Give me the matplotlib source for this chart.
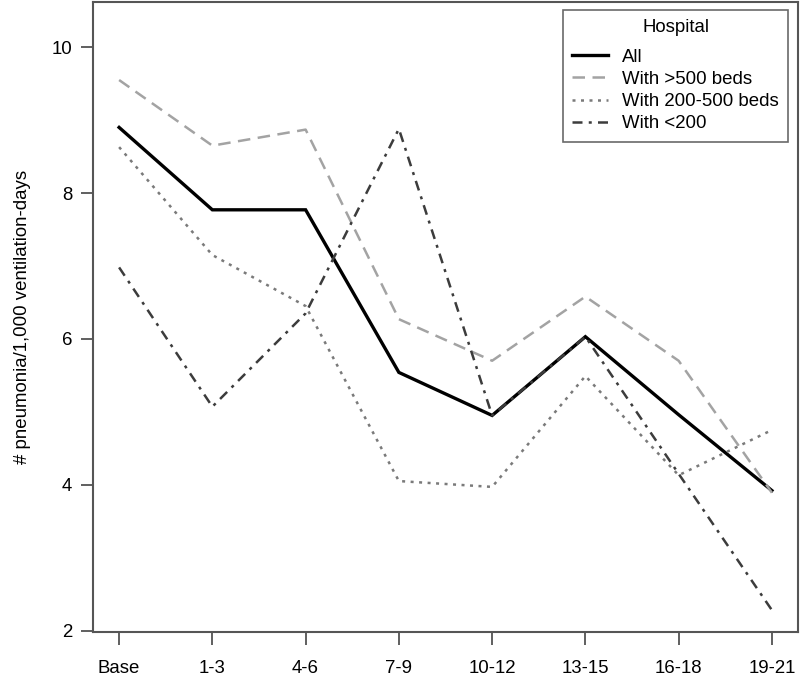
import matplotlib
matplotlib.use("Agg")
import matplotlib.pyplot as plt
import numpy as np

periods = ["Base", "1-3", "4-6", "7-9", "10-12", "13-15", "16-18", "19-21"]

all_hosp = [8.90, 7.77, 7.77, 5.54, 4.95, 6.03, 4.96, 3.92]
beds_500plus = [9.55, 8.65, 8.87, 6.27, 5.70, 6.58, 5.70, 3.89]
beds_200_500 = [8.63, 7.15, 6.45, 4.05, 3.97, 5.49, 4.13, 4.75]
beds_under200 = [6.98, 5.07, 6.35, 8.88, 4.95, 6.03, 4.15, 2.28]

fs = 13.4
plt.rcParams.update({
    "font.family": ["Liberation Sans", "DejaVu Sans"],
    "font.size": fs,
})

fig = plt.figure(figsize=(8, 6.78), dpi=100)
ax = fig.add_axes([93 / 800, 1 - 632 / 678, (798 - 93) / 800, (632 - 2) / 678])

x = np.arange(1, len(periods) + 1)
ax.plot(x, all_hosp, color="black", lw=2.4, label="All",
        solid_joinstyle="miter")
ax.plot(x, beds_500plus, color="#a3a3a3", lw=1.8, linestyle=(0, (5, 3)),
        label="With >500 beds")
ax.plot(x, beds_200_500, color="#7a7a7a", lw=1.8, linestyle=(0, (1.2, 2.2)),
        label="With 200-500 beds")
ax.plot(x, beds_under200, color="#3c3c3c", lw=1.8,
        linestyle=(0, (4, 2.5, 1.2, 2.5)), label="With <200")

ax.set_xlim(1 - 0.28, 8 + 0.28)
ax.set_ylim(1.98, 10.62)
ax.set_xticks(x)
ax.set_xticklabels(periods)
ax.set_yticks([2, 4, 6, 8, 10])
ax.set_ylabel("# pneumonia/1,000 ventilation-days", labelpad=15)

for s in ax.spines.values():
    s.set_color("#555555")
    s.set_linewidth(1.5)
ax.tick_params(axis="both", direction="out", length=9, width=1.2,
               color="#444444", labelsize=fs)
ax.tick_params(axis="x", pad=11)
ax.tick_params(axis="y", pad=6)

leg = ax.legend(title="Hospital", loc="upper right", frameon=True,
                fancybox=False, fontsize=fs, title_fontsize=fs,
                handlelength=1.9, handletextpad=0.8, labelspacing=0.28,
                borderpad=0.5, bbox_to_anchor=(0.9865, 0.9875),
                borderaxespad=0)
leg._legend_box.sep = 9
leg.get_frame().set_edgecolor("#444444")
leg.get_frame().set_linewidth(1.2)

fig.savefig("out.png", dpi=100)
